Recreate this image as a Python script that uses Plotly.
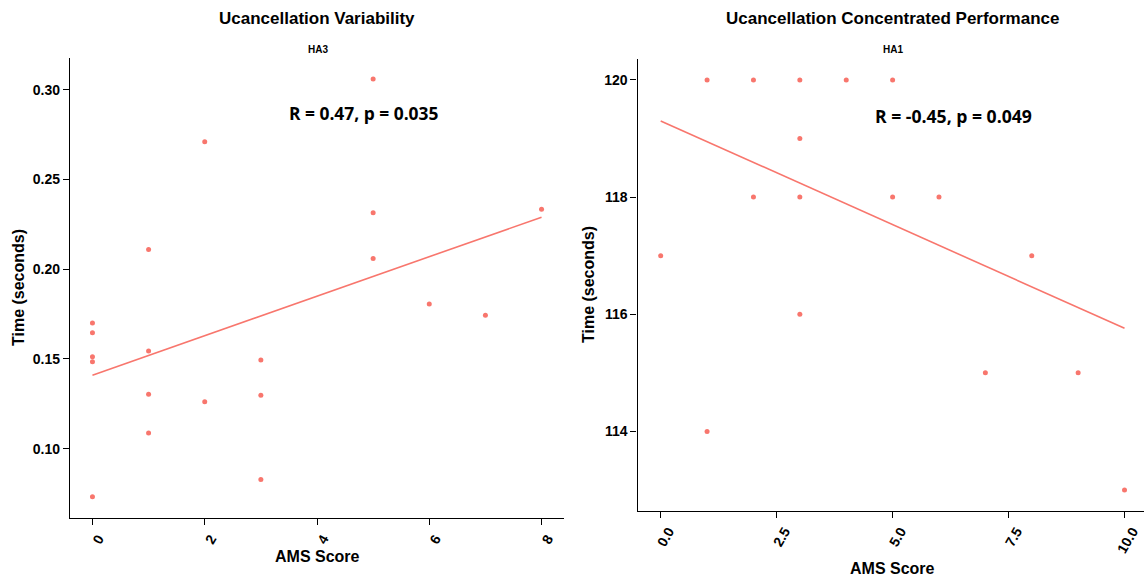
import plotly.graph_objects as go

# ---------------- data ----------------
# Left panel: Ucancellation Variability (HA3)
var_ams = [0, 0, 0, 0, 0, 1, 1, 1, 1, 2, 2, 3, 3, 3, 5, 5, 5, 6, 7, 8]
var_time = [0.170, 0.1646, 0.1513, 0.1485, 0.0732,
            0.211, 0.1545, 0.1303, 0.1088,
            0.271, 0.1262,
            0.1494, 0.1298, 0.0828,
            0.306, 0.2315, 0.206,
            0.1806, 0.1743, 0.2334]
var_fit_x = [0, 8]
var_fit_y = [0.141, 0.229]
var_xticks = [0, 2, 4, 6, 8]
var_xticklabels = ["0", "2", "4", "6", "8"]
var_yticks = [0.10, 0.15, 0.20, 0.25, 0.30]
var_yticklabels = ["0.10", "0.15", "0.20", "0.25", "0.30"]
var_stat = "R = 0.47, p = 0.035"

# Right panel: Ucancellation Concentrated Performance (HA1)
conc_ams = [1, 2, 3, 4, 5, 3, 2, 3, 5, 6, 0, 8, 3, 1, 7, 9, 10]
conc_time = [120, 120, 120, 120, 120, 119, 118, 118, 118, 118, 117, 117, 116, 114, 115, 115, 113]
conc_fit_x = [0, 10]
conc_fit_y = [119.30, 115.76]
conc_xticks = [0, 2.5, 5, 7.5, 10]
conc_xticklabels = ["0.0", "2.5", "5.0", "7.5", "10.0"]
conc_yticks = [114, 116, 118, 120]
conc_yticklabels = ["114", "116", "118", "120"]
conc_stat = "R = -0.45, p = 0.049"

titles = ["Ucancellation Variability", "Ucancellation Concentrated Performance"]
subtitles = ["HA3", "HA1"]
x_title = "AMS Score"
y_title = "Time (seconds)"

# ---------------- style ----------------
W, H = 1144, 579
RED = "#F8766D"
FONT = "Liberation Sans, Arial, sans-serif"


def px(x):
    return x / W


def py(y):
    return 1 - y / H


fig = go.Figure()

fig.add_trace(go.Scatter(x=var_ams, y=var_time, mode="markers",
                         marker=dict(color=RED, size=5), xaxis="x", yaxis="y",
                         showlegend=False))
fig.add_trace(go.Scatter(x=var_fit_x, y=var_fit_y, mode="lines",
                         line=dict(color=RED, width=1.6), xaxis="x", yaxis="y",
                         showlegend=False))
fig.add_trace(go.Scatter(x=conc_ams, y=conc_time, mode="markers",
                         marker=dict(color=RED, size=5), xaxis="x2", yaxis="y2",
                         showlegend=False))
fig.add_trace(go.Scatter(x=conc_fit_x, y=conc_fit_y, mode="lines",
                         line=dict(color=RED, width=1.6), xaxis="x2", yaxis="y2",
                         showlegend=False))

tickfont = dict(family=FONT, size=14, color="black", weight="bold")
axis_common = dict(showline=True, linecolor="black", linewidth=1.3,
                   ticks="outside", ticklen=6, tickwidth=1.3, tickcolor="black",
                   showgrid=False, zeroline=False, tickfont=tickfont,
                   mirror=False)

fig.update_layout(
    width=W, height=H,
    margin=dict(l=0, r=0, t=0, b=0),
    paper_bgcolor="white", plot_bgcolor="white",
    xaxis=dict(domain=[px(70), px(564)], range=[-0.4, 8.4],
               tickvals=var_xticks, ticktext=var_xticklabels,
               tickangle=-60, ticklabelshift=6, anchor="y", **axis_common),
    yaxis=dict(domain=[py(518), py(58)], range=[0.0614, 0.3177],
               tickvals=var_yticks, ticktext=var_yticklabels,
               anchor="x", **axis_common),
    xaxis2=dict(domain=[px(637.5), 1.0], range=[-0.5, 10.42],
                tickvals=conc_xticks, ticktext=conc_xticklabels,
                tickangle=-60, ticklabelshift=8, anchor="y2", **axis_common),
    yaxis2=dict(domain=[py(510.5), py(59.4)], range=[112.65, 120.35],
                tickvals=conc_yticks, ticktext=conc_yticklabels,
                anchor="x2", **axis_common),
)

ann = []
# titles
for cx, t in zip([316.5, 892], titles):
    ann.append(dict(x=px(cx), y=py(18), xref="paper", yref="paper", text=t,
                    showarrow=False, xanchor="center", yanchor="middle",
                    font=dict(family=FONT, size=17, color="black", weight="bold")))
for cx, t in zip([317.5, 892.5], subtitles):
    ann.append(dict(x=px(cx), y=py(49), xref="paper", yref="paper", text=t,
                    showarrow=False, xanchor="center", yanchor="middle",
                    font=dict(family=FONT, size=10, color="black", weight="bold")))
# axis titles
for cx, cy in [(317, 556), (892, 568)]:
    ann.append(dict(x=px(cx), y=py(cy), xref="paper", yref="paper", text=x_title,
                    showarrow=False, xanchor="center", yanchor="middle",
                    font=dict(family=FONT, size=16, color="black", weight="bold")))
for cx, cy in [(18, 288), (588, 285)]:
    ann.append(dict(x=px(cx), y=py(cy), xref="paper", yref="paper", text=y_title,
                    showarrow=False, xanchor="center", yanchor="middle", textangle=-90,
                    font=dict(family=FONT, size=16, color="black", weight="bold")))
# stats
ann.append(dict(x=3.46, y=0.2870, xref="x", yref="y", text=var_stat,
                showarrow=False, xanchor="left", yanchor="middle",
                font=dict(family="Open Sans", size=17.4, color="black", weight="bold")))
ann.append(dict(x=4.58, y=119.38, xref="x2", yref="y2", text=conc_stat,
                showarrow=False, xanchor="left", yanchor="middle",
                font=dict(family="Open Sans", size=17.6, color="black", weight="bold")))
fig.update_layout(annotations=ann)

fig.write_html("out.html")
